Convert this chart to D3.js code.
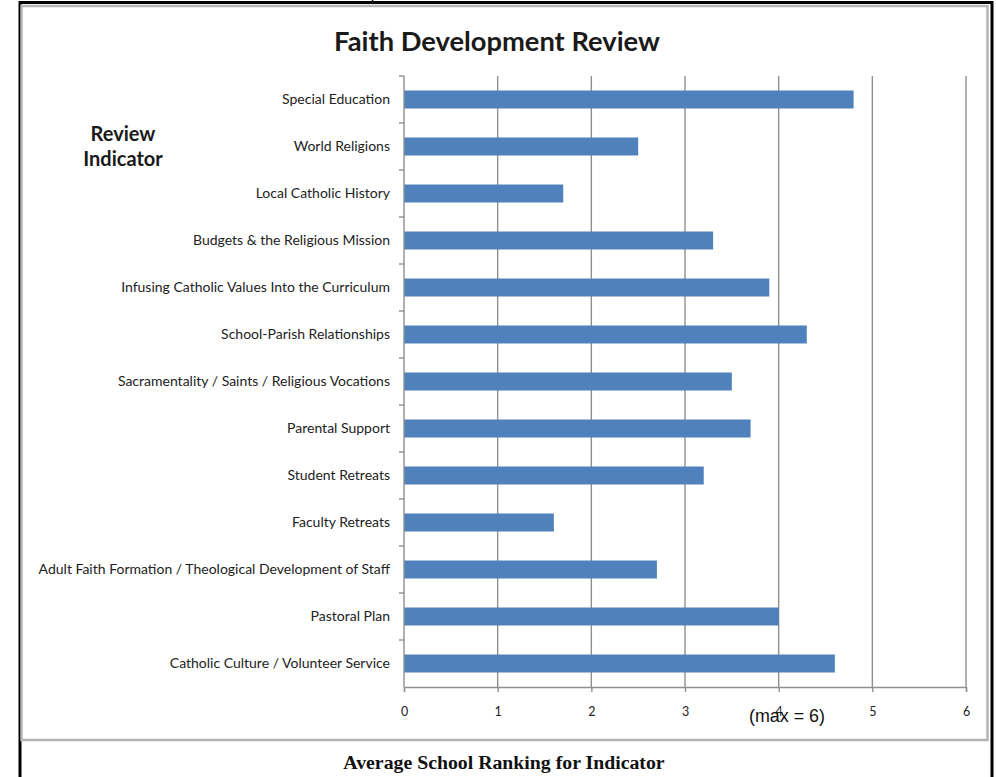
<!DOCTYPE html>
<html>
<head>
<meta charset="utf-8">
<script src="https://cdn.jsdelivr.net/npm/d3@7"></script>
<style>
  html, body { margin: 0; padding: 0; background: #fff; }
  svg { display: block; }
</style>
</head>
<body>
<svg id="chart" width="996" height="777"></svg>
<script>
// Review indicators, listed top to bottom
const categories = [
  "Special Education",
  "World Religions",
  "Local Catholic History",
  "Budgets & the Religious Mission",
  "Infusing Catholic Values Into the Curriculum",
  "School-Parish Relationships",
  "Sacramentality / Saints / Religious Vocations",
  "Parental Support",
  "Student Retreats",
  "Faculty Retreats",
  "Adult Faith Formation / Theological Development of Staff",
  "Pastoral Plan",
  "Catholic Culture / Volunteer Service"
];
// Average school ranking per indicator
const values = [4.8, 2.5, 1.7, 3.3, 3.9, 4.3, 3.5, 3.7, 3.2, 1.6, 2.7, 4.0, 4.6];
const xTicks = [0, 1, 2, 3, 4, 5, 6];

const title = "Faith Development Review";
const yTitle = ["Review", "Indicator"];
const xTitle = "Average School Ranking for Indicator";
const maxNote = "(max = 6)";

const svg = d3.select("#chart");
const sans = "Lato, 'Open Sans', sans-serif";

// Document frame around the chart
svg.append("line").attr("x1", 372.5).attr("x2", 372.5).attr("y1", 0).attr("y2", 3)
  .attr("stroke", "#000").attr("stroke-width", 1.5);
svg.append("rect").attr("x", 20).attr("y", 2.5).attr("width", 972).attr("height", 790)
  .attr("fill", "none").attr("stroke", "#000").attr("stroke-width", 3);
// Chart area border
svg.append("rect").attr("x", 21.5).attr("y", 6).attr("width", 966).attr("height", 734)
  .attr("fill", "none").attr("stroke", "#b4b4b4").attr("stroke-width", 2.5);

const x = d3.scaleLinear().domain([0, 6]).range([404, 966]);
const y = d3.scaleBand().domain(categories).range([76, 687]).paddingInner(0.617).paddingOuter(0.3085);

// Vertical gridlines
svg.append("g").selectAll("line").data(xTicks.slice(1)).join("line")
  .attr("x1", d => x(d)).attr("x2", d => x(d))
  .attr("y1", 76).attr("y2", 687)
  .attr("stroke", "#8f8f8f").attr("stroke-width", 1.4);

// Bars
svg.append("g").selectAll("rect").data(values).join("rect")
  .attr("x", x(0))
  .attr("y", (d, i) => y(categories[i]))
  .attr("width", d => x(d) - x(0))
  .attr("height", y.bandwidth())
  .attr("fill", "#4f81bd");

// X axis
const xAxis = d3.axisBottom(x).tickValues(xTicks).tickSize(5).tickPadding(15).tickFormat(d3.format("d"));
const gx = svg.append("g").attr("transform", "translate(0,687)").call(xAxis);
gx.select(".domain").attr("stroke", "#8f8f8f").attr("stroke-width", 1.4);
gx.selectAll(".tick line").attr("stroke", "#8f8f8f").attr("stroke-width", 1.4);
gx.selectAll(".tick text").attr("font-family", sans).attr("font-size", 12.5).attr("fill", "#222");

// Y axis: line with ticks at band boundaries
svg.append("line").attr("x1", x(0)).attr("x2", x(0)).attr("y1", 76).attr("y2", 687)
  .attr("stroke", "#8f8f8f").attr("stroke-width", 1.4);
const boundaries = categories.map(c => y(c) - y.step() * y.paddingInner() / 2);
svg.append("g").selectAll("line").data(boundaries).join("line")
  .attr("x1", x(0) - 5).attr("x2", x(0))
  .attr("y1", d => d).attr("y2", d => d)
  .attr("stroke", "#8f8f8f").attr("stroke-width", 1.4);

// Category labels
svg.append("g").selectAll("text").data(categories).join("text")
  .attr("x", 390)
  .attr("y", d => y(d) + y.bandwidth() / 2)
  .attr("dy", "0.35em")
  .attr("text-anchor", "end")
  .attr("font-family", sans)
  .attr("font-size", 14)
  .attr("fill", "#222")
  .text(d => d);

// Titles
svg.append("text").attr("x", 497).attr("y", 51).attr("text-anchor", "middle")
  .attr("font-family", sans).attr("font-weight", "bold").attr("font-size", 27.3)
  .attr("fill", "#1a1a1a").text(title);

svg.append("g").selectAll("text").data(yTitle).join("text")
  .attr("x", 123).attr("y", (d, i) => 141 + i * 25).attr("text-anchor", "middle")
  .attr("font-family", sans).attr("font-weight", "bold").attr("font-size", 20)
  .attr("fill", "#1a1a1a").text(d => d);

// Scale note beside the axis ticks, drawn condensed
svg.append("text").attr("x", 749).attr("y", 722)
  .attr("font-family", "'Liberation Sans', sans-serif")
  .attr("font-size", 19).attr("fill", "#111")
  .attr("textLength", 76).attr("lengthAdjust", "spacingAndGlyphs")
  .text(maxNote);

svg.append("text").attr("x", 504).attr("y", 769).attr("text-anchor", "middle")
  .attr("font-family", "'Liberation Serif', 'Times New Roman', serif")
  .attr("font-weight", "bold").attr("font-size", 19.8).attr("fill", "#111").text(xTitle);
</script>
</body>
</html>
